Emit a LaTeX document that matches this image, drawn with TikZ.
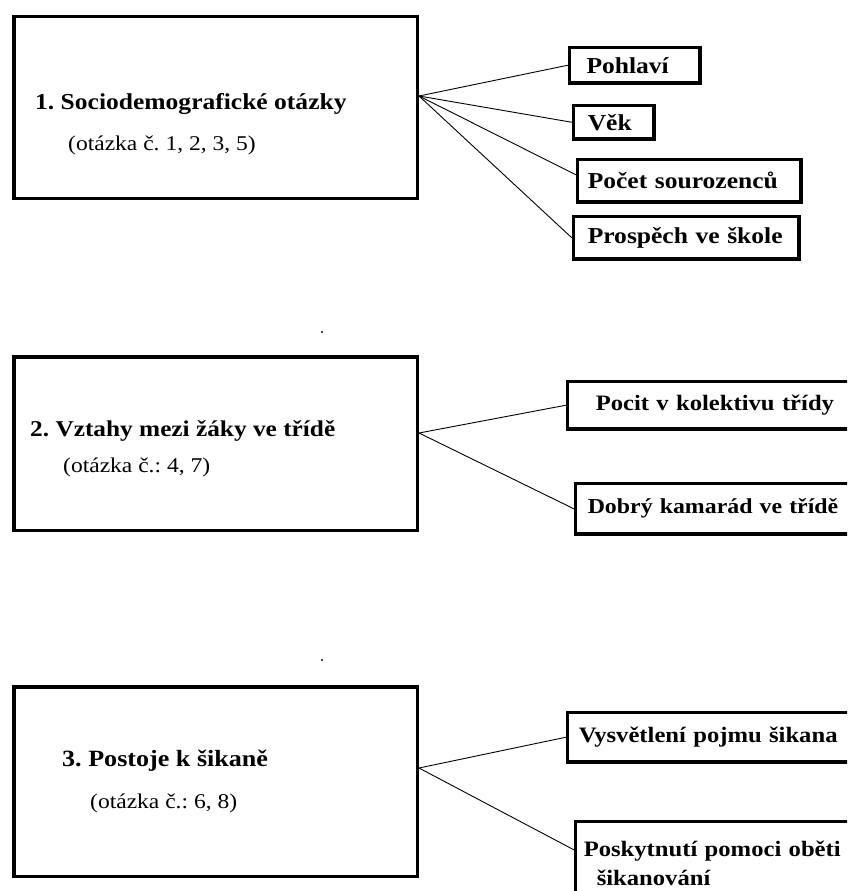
\documentclass[tikz,border=0pt]{standalone}
\usepackage{fontspec}
\setmainfont{Liberation Serif}[FakeStretch=1.12]
\frenchspacing

\begin{document}
\begin{tikzpicture}[x=1pt,y=-1pt,
  group node/.style={draw,line width=3.5pt,minimum width=403.5pt,inner sep=0pt},
  item node/.style={draw,line width=3.5pt,anchor=north west,align=left,inner ysep=0pt,
    font=\fontsize{22}{29}\selectfont\bfseries},
  big item/.style={font=\fontsize{22.8}{29}\selectfont\bfseries},
  title node/.style={anchor=base west,inner sep=0pt,font=\fontsize{22.6}{25}\selectfont\bfseries},
  sub node/.style={anchor=base west,inner sep=0pt,font=\fontsize{21}{23}\selectfont},
  every edge/.style={draw,line width=0.9pt}]

  \useasboundingbox (0,0) rectangle (847,891);
  \clip (0,0) rectangle (847,891);

  % left boxes
  \node[group node,minimum height=181.5pt] (1) at (215.5,107.5) {};
  \node[title node,font=\fontsize{22.8}{25}\selectfont\bfseries] (1t) at (35,109) {1. Sociodemografické otázky};
  \node[sub node] (1s) at (68,150) {(otázka č. 1, 2, 3, 5)};

  \node[group node,minimum height=173.5pt] (2) at (215.5,443.5) {};
  \node[title node] (2t) at (30,436) {2. Vztahy mezi žáky ve třídě};
  \node[sub node] (2s) at (63,472) {(otázka č.: 4, 7)};

  \node[group node,minimum height=189.5pt] (3) at (215.5,781.5) {};
  \node[title node,font=\fontsize{23.3}{25}\selectfont\bfseries] (3t) at (62,766) {3. Postoje k šikaně};
  \node[sub node] (3s) at (90,808) {(otázka č.: 6, 8)};

  \fill (322,332) circle (1.2pt);
  \fill (322,660) circle (1.2pt);

  % right boxes
  \node[item node,big item,inner xsep=17pt,text width=96.5pt,minimum height=35.5pt] (1a) at (567.75,45.75) {Pohlaví};
  \node[item node,big item,inner xsep=14.25pt,text width=52pt,minimum height=33.5pt] (1b) at (571.75,103.75) {Věk};
  \node[item node,big item,inner xsep=10.25pt,text width=203pt,minimum height=42.5pt] (1c) at (575.75,157.75) {Počet sourozenců};
  \node[item node,big item,inner xsep=14.25pt,text width=197pt,minimum height=42.5pt] (1d) at (571.75,214.75) {Prospěch ve škole};

  \node[item node,inner xsep=28.25pt,text width=251pt,minimum height=47.5pt] (2a) at (565.75,379.75) {Pocit v kolektivu třídy};
  \node[item node,font=\fontsize{21.3}{29}\selectfont\bfseries,inner xsep=12.25pt,text width=259pt,minimum height=50.5pt] (2b) at (573.75,481.75) {Dobrý kamarád ve třídě};

  \node[item node,inner xsep=11.25pt,text width=268pt,minimum height=49.5pt] (3a) at (565.75,710.75) {Vysvětlení pojmu šikana};
  \node[item node,inner xsep=8.25pt,inner ysep=19pt,text width=263pt] (3b) at (573.75,819.75)
    {Poskytnutí pomoci oběti\\\hspace*{13pt}šikanování};

  \path ([yshift=11.5pt]1.east) edge (1a.west)
                               edge (1b.west)
                               edge ([yshift=6pt]1c.west)
                               edge (1d.west);
  \path ([yshift=10.5pt]2.east) edge (2a.west)
                               edge (2b.west);
  \path ([yshift=13.5pt]3.east) edge (3a.west)
                               edge ([yshift=-30pt]3b.north west);
\end{tikzpicture}
\end{document}
